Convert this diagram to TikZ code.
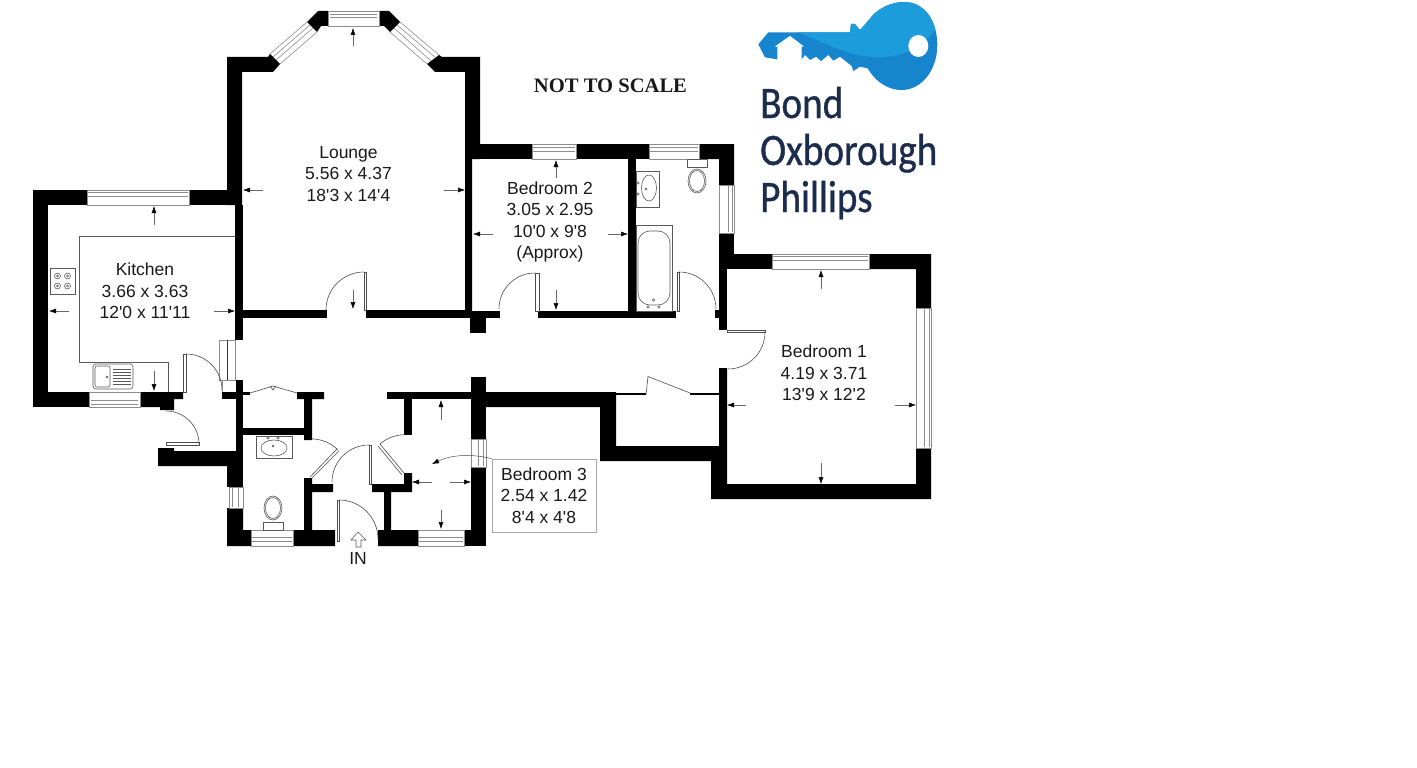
\documentclass[tikz,border=0pt]{standalone}
\usepackage{fontspec}
\setmainfont[Ligatures=TeXOff]{Liberation Sans}
\newfontfamily\scalefont{Liberation Serif}
\newfontfamily\logofont[FakeStretch=0.87,FakeBold=0.8]{Carlito}
\usetikzlibrary{arrows.meta}
\definecolor{keylight}{HTML}{1D9CDC}
\definecolor{keydark}{HTML}{1785CE}
\definecolor{logotext}{HTML}{1B2C4C}
\newcommand{\keyoutline}{(40,133) -- (70,97) -- (315,97) -- (318,72) -- (330,72) -- (345,90) -- (370,62) .. controls (395,25) and (440,5) .. (480,6) .. controls (545,8) and (577,70) .. (577,135) .. controls (577,210) and (530,270) .. (470,270) .. controls (420,270) and (385,235) .. (368,205) -- (345,200) -- (325,213) -- (320,198) -- (285,170) -- (265,182) -- (250,165) -- (228,183) -- (213,170) -- (195,180) -- (180,165) -- (170,178) -- (170,140) -- (178,140) -- (135,107) -- (88,140) -- (97,140) -- (97,178) -- (60,172) -- cycle}
\tikzset{
    wall/.style={fill=black},
    winline/.style={draw=black!45, line width=0.6pt},
    fixture/.style={draw=black!65, line width=0.6pt},
    doorline/.style={draw=black!70, line width=0.6pt},
    dimarrow/.style={draw=black!60, line width=0.5pt, -{Latex[length=7pt,width=5pt,black]}},
    roomlabel/.style={align=center, font=\fontsize{17.5}{21.5}\selectfont, text=black!90},
    logolabel/.style={anchor=base west, inner sep=0pt, text=logotext, font=\logofont\fontsize{45}{45}\selectfont}
}
\begin{document}
\begin{tikzpicture}[x=1pt, y=-1pt]
    \useasboundingbox (0,0) rectangle (1417,768);
    \fill[wall] (227,57) -- (268,57) -- (270,54) -- (280,64) -- (273,72) -- (242,72) -- (242,205) -- (227,205) -- cycle;
    \fill[wall] (307,22) -- (318,11) -- (328,11) -- (328,26) -- (321,26) -- (317,32) -- cycle;
    \fill[wall] (379,11) -- (389,11) -- (400,22) -- (390,32) -- (384,26) -- (379,26) -- cycle;
    \fill[wall] (439,55) -- (442,57) -- (480,57) -- (480,159) -- (472,159) -- (472,311) -- (465,311) -- (465,72) -- (435,72) -- (427,64) -- cycle;
    \fill[wall] (480,144) rectangle (532,159);
    \fill[wall] (576,144) rectangle (649,159);
    \fill[wall] (699,144) -- (734,144) -- (734,185) -- (719,185) -- (719,159) -- (699,159) -- cycle;
    \fill[wall] (628,159) rectangle (636,311);
    \fill[wall] (719,233) rectangle (734,269);
    \fill[wall] (734,254) rectangle (772,269);
    \fill[wall] (869,254) -- (931,254) -- (931,308) -- (916,308) -- (916,269) -- (869,269) -- cycle;
    \fill[wall] (916,448) -- (931,448) -- (931,499) -- (711,499) -- (711,461) -- (600,461) -- (600,407) -- (486,407) -- (486,392) -- (616,392) -- (616,446) -- (719,446) -- (719,368) -- (727,368) -- (727,484) -- (916,484) -- cycle;
    \fill[wall] (719,269) rectangle (727,330);
    \fill[wall] (715,310) rectangle (719,318);
    \fill[wall] (600,392.5) rectangle (646,395);
    \fill[wall] (690,392.5) rectangle (719,395);
    \fill[wall] (538,311) rectangle (676,318);
    \fill[wall] (465,311) rectangle (500,318);
    \fill[wall] (470,318) rectangle (486,333);
    \fill[wall] (242,310) rectangle (327,318);
    \fill[wall] (366,310) rectangle (472,318);
    \fill[wall] (235,205) rectangle (243,340);
    \fill[wall] (33,190) rectangle (87,205);
    \fill[wall] (189,190) rectangle (235,205);
    \fill[wall] (33,205) rectangle (48,407);
    \fill[wall] (48,392) rectangle (89,407);
    \fill[wall] (140,392) -- (183,392) -- (183,399) -- (174,399) -- (174,410) -- (160,410) -- (160,407) -- (140,407) -- cycle;
    \fill[wall] (222,392) rectangle (236,399);
    \fill[wall] (236,380) rectangle (243,392);
    \fill[wall] (236,392) rectangle (243,466);
    \fill[wall] (243,392) rectangle (250,395);
    \fill[wall] (158,448) -- (174,448) -- (174,451) -- (236,451) -- (236,466) -- (158,466) -- cycle;
    \fill[wall] (227,466) rectangle (243,487);
    \fill[wall] (227,508) -- (243,508) -- (243,530) -- (251,530) -- (251,546) -- (227,546) -- cycle;
    \fill[wall] (297,392) -- (324,392) -- (324,399) -- (312,399) -- (312,440) -- (304,440) -- (304,399) -- (297,399) -- cycle;
    \fill[wall] (243,428) rectangle (304,435);
    \fill[wall] (304,478) -- (312,478) -- (312,484) -- (333,484) -- (333,492) -- (312,492) -- (312,530) -- (335,530) -- (335,546) -- (293,546) -- (293,530) -- (304,530) -- cycle;
    \fill[wall] (387,392) rectangle (471,399);
    \fill[wall] (404,399) rectangle (412,435);
    \fill[wall] (471,377) rectangle (486,439);
    \fill[wall] (471,467) rectangle (486,546);
    \fill[wall] (404,473) -- (412,473) -- (412,492) -- (391,492) -- (391,530) -- (418,530) -- (418,546) -- (378,546) -- (378,530) -- (384,530) -- (384,492) -- (372,492) -- (372,484) -- (404,484) -- cycle;
    \fill[wall] (464,530) rectangle (471,546);
    \draw[winline] (328,11) rectangle (379,26) (330,14) -- (377,14) (330,17) -- (377,17);
    \draw[winline] (270,54) -- (307,22) (280,64) -- (317,32) (273,57) -- (310,25) (276,60) -- (313,28);
    \draw[winline] (400,22) -- (439,55) (390,32) -- (427,64) (397,25) -- (436,58) (394,28) -- (431,61);
    \draw[winline] (87,190) rectangle (189,205) (88,192) -- (188,192) (88,196) -- (188,196);
    \draw[winline] (89,392) rectangle (140,407) (91,400) -- (138,400) (91,404) -- (138,404);
    \draw[winline] (532,144) rectangle (576,159) (533,147) -- (575,147) (533,151) -- (575,151);
    \draw[winline] (649,144) rectangle (699,159) (650,147) -- (698,147) (650,151) -- (698,151);
    \draw[winline] (719,185) rectangle (734,233) (728,186) -- (728,232) (732,186) -- (732,232);
    \draw[winline] (772,254) rectangle (869,269) (773,256) -- (868,256) (773,260) -- (868,260);
    \draw[winline] (916,308) rectangle (931,448) (924,309) -- (924,447) (929,309) -- (929,447);
    \draw[winline] (471,439) rectangle (486,467) (478,440) -- (478,466) (483,440) -- (483,466);
    \draw[winline] (418,530) rectangle (464,546) (419,537) -- (463,537) (419,541) -- (463,541);
    \draw[winline] (251,530) rectangle (293,546) (252,537) -- (292,537) (252,541) -- (292,541);
    \draw[winline] (229,487) rectangle (243,508) (232,488) -- (232,507) (238,488) -- (238,507);
    \draw[winline] (219,340) rectangle (235,380) (222,380) -- (222,392);
    \draw[draw=black!80, line width=0.7pt] (227,340) -- (227,380);
    \draw[fixture] (79,236) -- (235,236) (79,236) -- (79,362) -- (168,362) -- (168,392);
    \draw[fixture] (50,268) rectangle (75,294);
    \draw[fixture] (57.5,276) circle (3) (67.5,276) circle (3) (57.5,286) circle (3) (67.5,286) circle (3);
    \draw[fixture] (57.5,276) circle (1) (67.5,276) circle (1) (57.5,286) circle (1) (67.5,286) circle (1);
    \draw[fixture, rounded corners=3pt] (93,364) rectangle (133,389);
    \draw[fixture, rounded corners=2pt] (95,366) rectangle (110,387);
    \draw[fixture] (107,377) circle (1);
    \draw[fixture] (113,369) -- (131,369) (113,372) -- (131,372) (113,375) -- (131,375) (113,378) -- (131,378) (113,381) -- (131,381) (113,384) -- (131,384);
    \draw[fixture] (636,225) rectangle (672,311);
    \draw[fixture, rounded corners=12pt] (638,231) rectangle (670,305);
    \draw[fixture] (653.5,300) circle (1.2) (648,307) circle (1.2) (659,307) circle (1.2);
    \draw[fixture] (636,171) rectangle (659,207);
    \draw[fixture] (649,188) ellipse (7.5 and 13);
    \draw[fixture] (638,183) circle (1.2) (638,194) circle (1.2) (646,189) circle (1);
    \draw[fixture] (687,159) rectangle (707,167);
    \draw[fixture] (697,181) ellipse (9 and 12) (697,181) ellipse (7.5 and 10.5);
    \draw[fixture] (256,436) rectangle (292,458);
    \draw[fixture] (274,448) ellipse (13 and 8);
    \draw[fixture] (268,438) circle (1.2) (278,438) circle (1.2) (273,446) circle (1);
    \draw[fixture] (263,522) rectangle (283,530);
    \draw[fixture] (273,508) ellipse (9 and 12) (273,508) ellipse (7.5 and 10.5);
    \draw[doorline] (364,272) rectangle (366,310);
    \draw[doorline] (364,272) arc[start angle=-90, end angle=-180, radius=38];
    \draw[doorline] (535,273) rectangle (539,311);
    \draw[doorline] (535,273) arc[start angle=-90, end angle=-180, radius=36];
    \draw[doorline] (677,272) rectangle (679,311);
    \draw[doorline] (679,272) arc[start angle=-90, end angle=0, radius=37];
    \draw[doorline] (727,330) rectangle (765,332);
    \draw[doorline] (765,332) arc[start angle=0, end angle=90, radius=37];
    \draw[doorline] (646,395) -- (648,376.5) -- (690,393);
    \draw[doorline] (183,354) rectangle (186,392);
    \draw[doorline] (186,354) arc[start angle=-90, end angle=0, radius=36];
    \draw[doorline] (166,442) rectangle (199,445);
    \draw[doorline] (166,411) arc[start angle=-90, end angle=0, radius=33];
    \draw[doorline] (250,393) -- (273,386) -- (297,393) (270,386) -- (273,390) -- (276,386);
    \draw[doorline] (310,477) -- (337,449) (312,478) -- (339,451);
    \draw[doorline] (338,450) arc[start angle=-45, end angle=-90, radius=38];
    \draw[doorline] (369,445) rectangle (371,484);
    \draw[doorline] (369,445) arc[start angle=-90, end angle=-180, radius=37];
    \draw[doorline] (337,500) rectangle (339,541);
    \draw[doorline] (339,500) arc[start angle=-90, end angle=0, radius=39];
    \draw[doorline] (380,444) -- (404,473) (378,446) -- (402,475);
    \draw[doorline] (380,444) arc[start angle=-131, end angle=-90, radius=38];
    \draw[dimarrow] (353,46) -- (353,28);
    \draw[dimarrow] (263,190) -- (243,190);
    \draw[dimarrow] (444,190) -- (465,190);
    \draw[dimarrow] (353,290) -- (353,309);
    \draw[dimarrow] (154,225) -- (154,206);
    \draw[dimarrow] (69,311) -- (49,311);
    \draw[dimarrow] (214,311) -- (235,311);
    \draw[dimarrow] (154,371) -- (154,391);
    \draw[dimarrow] (556,178) -- (556,160);
    \draw[dimarrow] (493,234) -- (473,234);
    \draw[dimarrow] (608,234) -- (628,234);
    \draw[dimarrow] (556,290) -- (556,310);
    \draw[dimarrow] (821,289) -- (821,270);
    \draw[dimarrow] (746,405) -- (727,405);
    \draw[dimarrow] (895,405) -- (916,405);
    \draw[dimarrow] (821,463) -- (821,484);
    \draw[dimarrow] (441,420) -- (441,400);
    \draw[dimarrow] (432,482) -- (412,482);
    \draw[dimarrow] (450,482) -- (471,482);
    \draw[dimarrow] (441,510) -- (441,529);
    \node[roomlabel] (lounge) at (348.5,174) {Lounge\\5.56 x 4.37\\18'3 x 14'4};
    \node[roomlabel] (kitchen) at (145,291) {Kitchen\\3.66 x 3.63\\12'0 x 11'11};
    \node[roomlabel] (bedroomtwo) at (550,222) {Bedroom 2\\3.05 x 2.95\\10'0 x 9'8\\(Approx)};
    \node[roomlabel] (bedroomone) at (824,373) {Bedroom 1\\4.19 x 3.71\\13'9 x 12'2};
    \node[roomlabel, draw=black!35, line width=0.6pt, minimum width=104pt, minimum height=73pt, inner sep=0pt] (bedroomthree) at (544,495.5) {Bedroom 3\\2.54 x 1.42\\8'4 x 4'8};
    \coordinate (bedroomthreetip) at (432,464);
    \draw[draw=black!70, line width=0.5pt, -{Latex[length=7pt,width=5pt,black]}] (bedroomthree.north west) .. controls (478,455) and (455,453) .. (bedroomthreetip);
    \node[font=\fontsize{17.5}{21}\selectfont, text=black!90] (entrance) at (358,558) {IN};
    \draw[fixture] (358,532) -- (366,540) -- (361,540) -- (361,547) -- (356,547) -- (356,540) -- (351,540) -- cycle;
    \node[font=\scalefont\bfseries\fontsize{20.6}{24}\selectfont, text=black!90] (notscale) at (610.5,86) {NOT TO SCALE};
    \begin{scope}[shift={(745,0)}, x=0.3333pt, y=-0.3333pt]
        \begin{scope}
            \clip \keyoutline;
            \fill[keydark] (30,0) rectangle (590,280);
            \fill[keylight] (130,90) .. controls (230,115) and (290,170) .. (400,172) .. controls (470,173) and (540,140) .. (580,75) -- (590,0) -- (130,0) -- cycle;
        \end{scope}
        \fill[white] (520,138) ellipse (30 and 33);
    \end{scope}
    \node[logolabel] (bond) at (760,118) {Bond};
    \node[logolabel] (oxborough) at (760,165) {Oxborough};
    \node[logolabel] (phillips) at (760,212) {Phillips};
\end{tikzpicture}
\end{document}
